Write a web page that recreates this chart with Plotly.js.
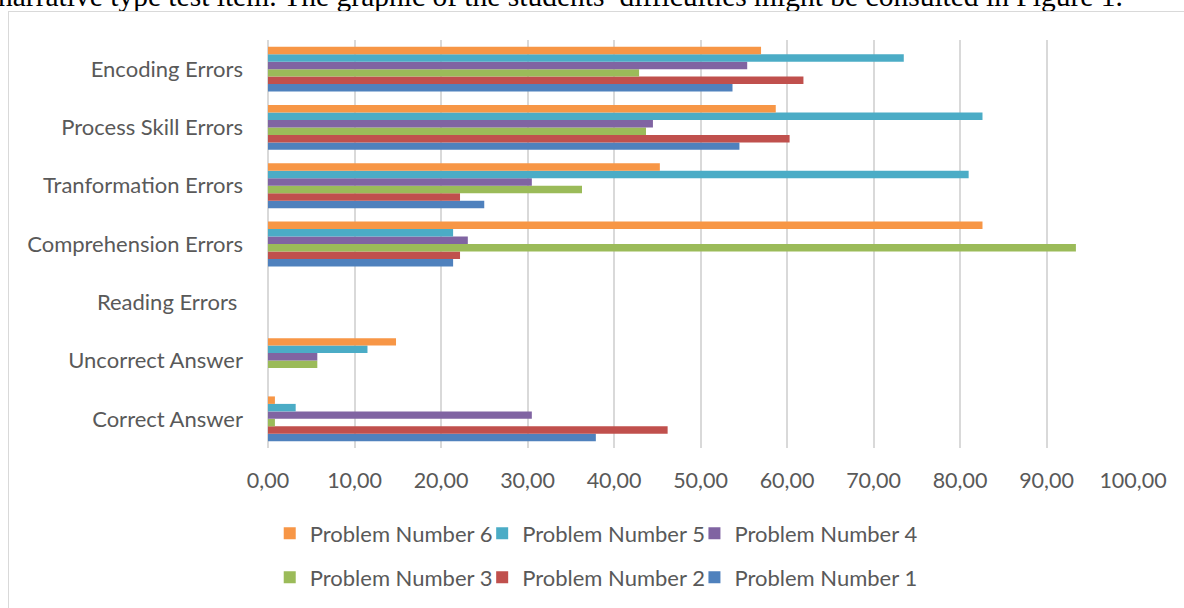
<!DOCTYPE html>
<html>
<head>
<meta charset="utf-8">
<script src="https://cdn.plot.ly/plotly-3.0.1.min.js"></script>
<style>
  html, body { margin: 0; padding: 0; width: 1184px; height: 608px; overflow: hidden; background: #fff; }
  #sentence {
    position: absolute; left: -2px; top: -19px; white-space: nowrap;
    font-family: "Liberation Serif", "Times New Roman", serif; font-size: 29.5px; color: #000; line-height: 30px;
  }
  #frame {
    position: absolute; left: 8px; top: 11px; width: 1180px; height: 600px;
    border-left: 1.5px solid #d9d9d9; border-top: 1.5px solid #d9d9d9;
  }
  #chart { position: absolute; left: 0; top: 0; width: 1176px; height: 597px; }
</style>
</head>
<body>
<div id="sentence">narrative type test item. The graphic of the students’ difficulties might be consulted in Figure 1.</div>
<div id="frame"><div id="chart"></div></div>
<script>
const categories = [
  "Correct Answer",
  "Uncorrect Answer",
  "Reading Errors\u00a0",
  "Comprehension Errors",
  "Tranformation Errors",
  "Process Skill Errors",
  "Encoding Errors"
];
const seriesNames = [
  "Problem Number 1", "Problem Number 2", "Problem Number 3",
  "Problem Number 4", "Problem Number 5", "Problem Number 6"
];
const problem1 = [37.9, 0, 0, 21.4, 25.0, 54.5, 53.7];
const problem2 = [46.2, 0, 0, 22.2, 22.2, 60.3, 61.9];
const problem3 = [0.8, 5.7, 0, 93.4, 36.3, 43.7, 42.9];
const problem4 = [30.5, 5.7, 0, 23.1, 30.5, 44.5, 55.4];
const problem5 = [3.2, 11.5, 0, 21.4, 81.0, 82.6, 73.5];
const problem6 = [0.8, 14.8, 0, 82.6, 45.3, 58.7, 57.0];
const xTickValues = [0, 10, 20, 30, 40, 50, 60, 70, 80, 90, 100];

const seriesValues = [problem1, problem2, problem3, problem4, problem5, problem6];
const colors = ["#4F81BD", "#C0504D", "#9BBB59", "#8064A2", "#4BACC6", "#F79646"];
// one legend per series so the two legend rows of three match the reference
const legendIds = ["legend6", "legend5", "legend4", "legend3", "legend2", "legend"];

const traces = seriesValues.map((vals, i) => ({
  type: "bar",
  orientation: "h",
  name: seriesNames[i],
  x: vals,
  y: categories,
  marker: { color: colors[i] },
  legend: legendIds[i],
  hoverinfo: "x+name"
}));

const FONT = "Lato, 'Open Sans', sans-serif";
const TXT = "#595959";

function legendAt(x, y) {
  return {
    orientation: "h",
    xanchor: "left",
    yanchor: "middle",
    x: x, y: y,
    font: { family: FONT, size: 22, color: TXT },
    itemwidth: 30,
    bgcolor: "rgba(0,0,0,0)",
    borderwidth: 0
  };
}
const col = [0.002, 0.2476, 0.4930];
const row = [-0.2063, -0.3138];

const layout = {
  width: 1176,
  height: 597,
  margin: { l: 258.5, r: 52, t: 27.5, b: 160, pad: 0 },
  paper_bgcolor: "#fff",
  plot_bgcolor: "#fff",
  separators: ",.",
  barmode: "group",
  bargap: 0.23,
  bargroupgap: 0,
  font: { family: FONT, size: 22, color: TXT },
  xaxis: {
    range: [0, 100],
    tickvals: xTickValues,
    tickformat: ".2f",
    showgrid: true,
    gridcolor: "#d9d9d9",
    gridwidth: 2,
    zeroline: true,
    zerolinecolor: "#d9d9d9",
    zerolinewidth: 2,
    showline: false,
    ticks: "",
    ticklabelstandoff: 17,
    tickfont: { family: FONT, size: 21.5, color: TXT },
    fixedrange: true
  },
  yaxis: {
    type: "category",
    categoryorder: "array",
    categoryarray: categories,
    showgrid: false,
    zeroline: false,
    showline: false,
    ticks: "",
    ticklabelstandoff: 24,
    tickfont: { family: FONT, size: 22, color: TXT },
    fixedrange: true
  },
  legend:  legendAt(col[0], row[0]),
  legend2: legendAt(col[1], row[0]),
  legend3: legendAt(col[2], row[0]),
  legend4: legendAt(col[0], row[1]),
  legend5: legendAt(col[1], row[1]),
  legend6: legendAt(col[2], row[1]),
  showlegend: true
};

Plotly.newPlot("chart", traces, layout, { displayModeBar: false, staticPlot: true });
</script>
</body>
</html>
